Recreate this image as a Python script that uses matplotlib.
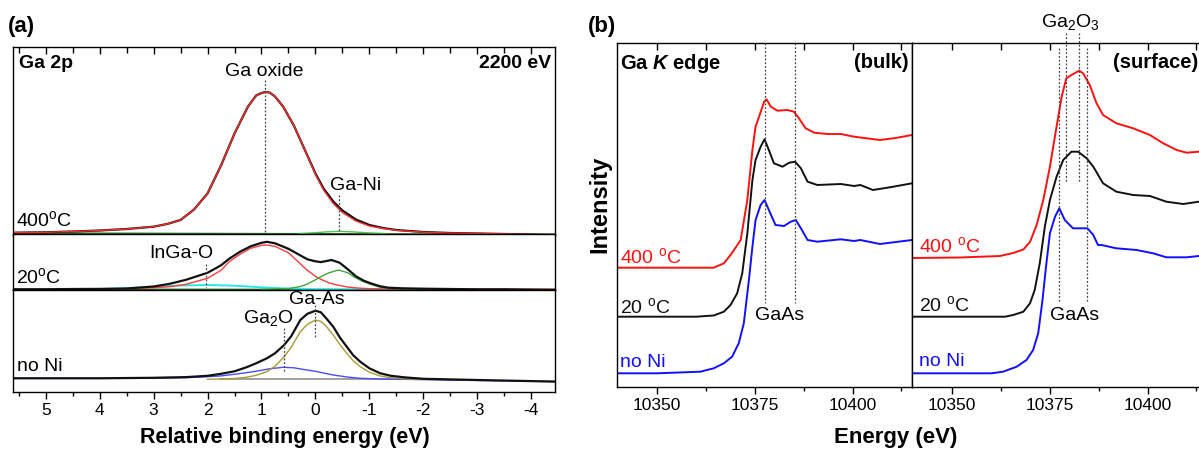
import matplotlib

matplotlib.use("Agg")
import matplotlib.pyplot as plt
from matplotlib.ticker import MultipleLocator

plt.rcParams["font.family"] = ["Liberation Sans", "DejaVu Sans"]
plt.rcParams["mathtext.fontset"] = "custom"
plt.rcParams["mathtext.rm"] = "Liberation Sans"
plt.rcParams["mathtext.it"] = "Liberation Sans:italic"
plt.rcParams["mathtext.bf"] = "Liberation Sans:bold"
plt.rcParams["mathtext.bfit"] = "Liberation Sans:italic:bold"
plt.rcParams["axes.linewidth"] = 1.0
plt.rcParams["axes.unicode_minus"] = False

# ---------------- (a) Ga 2p XPS, relative binding energy (eV) ----------------
# 400 C
e_400 = [5.6, 5.0, 4.5, 4.0, 3.5, 3.0, 2.75, 2.5, 2.25, 2.0, 1.75, 1.5, 1.25, 1.1, 1.0, 0.93,
         0.85, 0.75, 0.6, 0.4, 0.2, 0.0, -0.15, -0.33, -0.5, -0.75, -1.0, -1.25, -1.5, -2.0,
         -2.5, -3.0, -3.5, -4.0, -4.45]
data_400 = [0.8, 1.2, 2.0, 3.0, 4.5, 6.8, 9.5, 13.5, 24.0, 40.0, 68.0, 100.0, 127.0, 138.0,
            140.5, 141.5, 141.0, 137.0, 127.0, 108.0, 84.0, 60.0, 45.0, 32.0, 23.0, 14.0, 8.5,
            5.5, 3.5, 1.5, 0.5, 0.0, -0.5, -1.0, -1.5]
oxide_400 = [0.8, 1.2, 2.0, 3.0, 4.5, 6.8, 9.5, 13.5, 24.0, 40.0, 68.0, 100.0, 127.0, 138.0,
             140.5, 141.5, 141.0, 137.0, 127.0, 108.0, 84.0, 59.0, 43.5, 30.0, 21.0, 12.5, 7.5,
             5.0, 3.2, 1.3, 0.4, 0.0, -0.5, -1.0, -1.5]
e_gani_400 = [0.3, 0.0, -0.2, -0.43, -0.7, -1.0, -1.3]
gani_400 = [0.0, 0.8, 1.6, 2.2, 1.6, 0.6, 0.0]
e_bg = [5.6, -4.45]
bg_400 = [0.3, -1.0]

# 20 C
e_20 = [5.6, 5.0, 4.5, 4.0, 3.5, 3.3, 3.0, 2.7, 2.4, 2.0, 1.75, 1.6, 1.4, 1.2, 1.0, 0.9,
        0.75, 0.5, 0.35, 0.15, 0.0, -0.1, -0.3, -0.45, -0.6, -0.75, -0.9, -1.05, -1.2,
        -1.35, -1.6, -2.0, -2.5, -3.0, -3.5, -4.0, -4.45]
data_20 = [0.0, 0.0, 0.3, 0.4, 0.8, 1.6, 2.8, 5.5, 9.5, 16.5, 24.0, 30.5, 37.5, 43.0, 46.5,
           47.5, 46.0, 40.5, 36.0, 30.0, 28.0, 27.2, 29.3, 26.5, 20.0, 13.0, 8.5, 5.5, 3.0,
           1.6, 1.0, 0.6, 0.3, 0.0, 0.0, -0.3, -0.5]
e_ox_20 = [5.6, 4.0, 3.5, 3.0, 2.7, 2.4, 2.0, 1.75, 1.6, 1.4, 1.2, 1.0, 0.9, 0.75, 0.5, 0.35,
           0.15, 0.0, -0.1, -0.25, -0.4, -0.6, -0.8, -1.0, -1.5, -2.0, -4.45]
oxide_20 = [0.0, 0.2, 0.6, 1.6, 2.6, 5.0, 11.0, 19.0, 27.5, 35.0, 41.0, 44.0, 44.3, 43.0,
            36.5, 29.0, 19.0, 13.0, 10.0, 6.5, 4.3, 2.2, 1.2, 0.6, 0.1, 0.0, 0.0]
e_gani_20 = [1.0, 0.5, 0.3, 0.16, 0.0, -0.1, -0.25, -0.43, -0.6, -0.71, -0.85, -1.02, -1.2,
             -1.5, -2.0]
gani_20 = [0.0, 0.8, 2.5, 5.0, 9.5, 12.6, 16.5, 19.3, 16.5, 12.6, 8.5, 5.0, 2.0, 0.5, 0.0]
e_ingao_20 = [5.6, 4.0, 3.5, 3.0, 2.5, 2.0, 1.5, 1.0, 0.5, 0.0, -4.45]
ingao_20 = [0.0, 0.3, 1.0, 2.5, 3.8, 4.3, 3.6, 2.0, 0.7, 0.0, -1.0]
bg_20 = [0.0, -0.6]

# no Ni
e_noni = [5.6, 5.0, 4.0, 3.0, 2.39, 2.0, 1.77, 1.5, 1.28, 1.1, 0.9, 0.75, 0.58, 0.45, 0.28,
          0.15, 0.0, -0.1, -0.2, -0.33, -0.45, -0.58, -0.7, -0.83, -1.0, -1.2, -1.4, -1.64,
          -2.0, -3.0, -4.0, -4.45]
data_noni = [1.0, 1.0, 1.0, 1.5, 2.2, 3.5, 5.3, 8.0, 12.0, 16.0, 21.0, 26.0, 34.3, 43.0,
             59.3, 65.5, 68.6, 67.0, 61.0, 52.6, 42.0, 32.6, 24.0, 17.6, 11.0, 6.0, 3.5,
             2.0, 0.5, -0.7, -1.8, -2.3]
e_gaas = [2.0, 1.5, 1.28, 1.1, 0.9, 0.75, 0.58, 0.45, 0.28, 0.15, 0.0, -0.1, -0.2, -0.33,
          -0.45, -0.58, -0.7, -0.83, -1.0, -1.2, -1.4, -1.64, -2.0]
gaas_noni = [0.0, 0.8, 2.0, 4.0, 7.6, 13.0, 22.6, 32.0, 47.6, 55.0, 59.3, 58.0, 53.0, 44.3,
             35.0, 26.0, 18.5, 12.6, 7.0, 3.3, 1.5, 0.5, 0.0]
e_ga2o = [5.6, 4.0, 3.0, 2.39, 2.0, 1.77, 1.5, 1.15, 0.85, 0.6, 0.4, 0.16, 0.0, -0.33, -0.6,
          -0.83, -1.2, -1.64, -2.5, -3.5, -4.45]
ga2o_noni = [1.0, 1.0, 1.0, 1.6, 2.6, 3.3, 5.0, 7.6, 10.5, 12.0, 11.5, 9.3, 8.0, 4.3, 2.2,
             1.0, 0.3, 0.0, -0.8, -1.6, -2.3]
e_bg_noni = [1.77, -1.7]
bg_noni = [0.0, 0.0]

# peak markers (eV)
e_ga_oxide, e_ga_ni, e_ingao, e_ga_as, e_ga2o_line = 0.94, -0.43, 2.03, 0.0, 0.58

# ---------------- (b) Ga K edge XAS, energy (eV) ----------------
e_bulk_400 = [10339.7, 10350, 10360, 10364.5, 10367.1, 10368.8, 10369.7, 10371.4, 10373.1,
              10374.4, 10375.2, 10376.1, 10377.4, 10378.0, 10379.1, 10380.8, 10383.3, 10385.0,
              10386.3, 10388.0, 10390.2, 10393.6, 10397.0, 10400.4, 10404, 10407, 10411, 10415.2]
bulk_400 = [119.3, 119.3, 119.3, 119.3, 123.7, 132, 137, 147, 187, 237, 260.3, 270.3, 285.3,
            287.7, 280.3, 276.3, 277, 275.3, 268.7, 258.7, 254.3, 253, 253, 250.3, 248.5, 247,
            249, 252]
e_bulk_20 = [10339.7, 10350, 10360, 10364.5, 10367.1, 10368.8, 10370.5, 10371.8, 10373.1,
             10374.4, 10375.2, 10376.5, 10377.5, 10378.6, 10379.9, 10382.1, 10383.8, 10385.3,
             10386.8, 10388.5, 10391.0, 10397.0, 10400.4, 10402, 10405.2, 10410, 10415.2]
bulk_20 = [70.3, 70.3, 70.3, 71.5, 75.3, 82, 93.7, 113.7, 153.7, 207, 227, 240.3, 247.7, 237,
           223.7, 220.3, 224.3, 225.3, 218.7, 205.3, 202, 203, 201, 202, 197, 200, 203.7]
e_bulk_noni = [10339.7, 10350, 10361.1, 10364.5, 10367.1, 10369.2, 10370.9, 10372.2, 10373.5,
               10374.4, 10375.2, 10376.5, 10377.5, 10378.6, 10380.3, 10382.5, 10384.2, 10385.5,
               10386.8, 10388.5, 10391.0, 10397.0, 10400.4, 10402, 10407, 10415.2]
bulk_noni = [13.7, 13.7, 15.3, 18.7, 23.7, 30.3, 43.7, 63.7, 107, 140.3, 167, 182, 187, 177,
             162, 161, 165.3, 167, 158.7, 147, 145.3, 147.7, 146, 147, 143, 147]

e_surf_400 = [10339.7, 10352, 10362.2, 10365.6, 10368.2, 10369.9, 10371.6, 10373.3, 10375.0,
              10376.7, 10378.0, 10379.2, 10380.5, 10382.5, 10383.5, 10385.2, 10386.9, 10388.6,
              10392, 10396.3, 10400.6, 10404, 10407.4, 10410, 10413.1, 10415.2]
surf_400 = [129.0, 129.5, 131.0, 134.0, 137.5, 145.0, 162.0, 187, 220.3, 260.3, 290.3, 308.7,
            312, 316.3, 313.7, 302, 284, 272, 263.7, 258.7, 252, 243.7, 237, 234.3, 235.3, 236]
e_surf_20 = [10339.7, 10352, 10363.5, 10365.6, 10368.2, 10369.9, 10371.1, 10372.4, 10373.7,
             10375.0, 10376.7, 10378.4, 10380.5, 10382.2, 10384.4, 10386.1, 10388.6, 10392,
             10396.3, 10400.6, 10404.8, 10409.1, 10413.1, 10415.2]
surf_20 = [70.3, 70.3, 70.3, 72, 75.3, 83.7, 97, 123.7, 160.3, 187, 210.3, 227, 235.3, 235.3,
           228.7, 220.3, 203.7, 195.3, 192, 191, 185.3, 183, 185.3, 186]
e_surf_noni = [10339.7, 10360, 10363, 10366.5, 10369, 10370.7, 10372, 10373.1, 10374, 10375,
               10376.3, 10377.4, 10378.8, 10380.9, 10383.1, 10384.6, 10386.1, 10387.3, 10388.2,
               10392, 10397.2, 10401.4, 10404.8, 10410, 10413.1, 10415.2]
surf_noni = [13.7, 13.7, 15.3, 20.3, 27, 37, 53.7, 87, 120.3, 153.7, 170.3, 178.7, 167, 158.7,
             158.7, 158.7, 152, 142, 142, 138.7, 137, 133.7, 129.7, 129.7, 131, 131.5]

e_gaas_bulk = [10377.5, 10385.3]
e_gaas_surf = [10377.3, 10384.6]
e_ga2o3_surf = [10379.2, 10382.4]

W, H = 1199, 450
fig = plt.figure(figsize=(W / 100, H / 100), dpi=100)


def box(left, top, right, bottom):
    return [left / W, 1 - bottom / H, (right - left) / W, (bottom - top) / H]


ax_a1 = fig.add_axes(box(13.3, 46.7, 555, 234.5))
ax_a2 = fig.add_axes(box(13.3, 234.5, 555, 290))
ax_a3 = fig.add_axes(box(13.3, 290, 555, 391.7))
ax_b1 = fig.add_axes(box(616.7, 43, 912, 386.7))
ax_b2 = fig.add_axes(box(912, 43, 1207, 386.7))

for ax in (ax_a1, ax_a2, ax_a3):
    ax.set_xlim(5.6, -4.44)
    ax.set_yticks([])
    ax.xaxis.set_major_locator(MultipleLocator(1))
    ax.xaxis.set_minor_locator(MultipleLocator(0.5))
    ax.tick_params(axis="x", which="both", bottom=False, top=False, labelbottom=False)
ax_a1.set_ylim(-1, 186.8)
ax_a2.set_ylim(-0.7, 54.8)
ax_a3.set_ylim(-12.4, 89.3)
ax_a1.tick_params(axis="x", which="both", top=True, direction="in")
ax_a1.tick_params(axis="x", which="major", length=5, width=1)
ax_a1.tick_params(axis="x", which="minor", length=4, width=1)
ax_a3.tick_params(axis="x", which="both", bottom=True, labelbottom=True, direction="out",
                  labelsize=12.5, pad=3)
ax_a3.tick_params(axis="x", which="major", length=5, width=1)
ax_a3.tick_params(axis="x", which="minor", length=3, width=1)

# 400 C
ax_a1.plot(e_bg, bg_400, color="#1e6b1e", lw=1.3)
ax_a1.plot(e_gani_400, gani_400, color="#52c052", lw=1.0)
ax_a1.plot(e_400, data_400, color="#111111", lw=1.6)
ax_a1.plot(e_400, oxide_400, color="#ff2a2a", lw=1.0)
# 20 C
ax_a2.plot(e_bg, bg_20, color="#1e6b1e", lw=1.3)
ax_a2.plot(e_ingao_20, ingao_20, color="#2ee6ea", lw=1.4)
ax_a2.plot(e_ox_20, oxide_20, color="#ff3c3c", lw=1.0)
ax_a2.plot(e_gani_20, gani_20, color="#3cab3c", lw=1.0)
ax_a2.plot(e_20, data_20, color="#111111", lw=1.6)
# no Ni
ax_a3.plot(e_bg_noni, bg_noni, color="#999999", lw=1.3)
ax_a3.plot(e_ga2o, ga2o_noni, color="#4b4bff", lw=1.0)
ax_a3.plot(e_gaas, gaas_noni, color="#a99a35", lw=1.0)
ax_a3.plot(e_noni, data_noni, color="#111111", lw=1.6)

dot = dict(color="#444444", lw=0.9, ls=(0, (1.5, 1.5)), clip_on=False, zorder=5)
ax_a1.plot([e_ga_oxide, e_ga_oxide], [153.5, -36.5], **dot)
ax_a1.plot([e_ga_ni, e_ga_ni], [38.5, -44.5], **dot)
ax_a2.plot([e_ingao, e_ingao], [25.3, 2.6], **dot)
ax_a3.plot([e_ga_as, e_ga_as], [74.3, 42.6], **dot)
ax_a3.plot([e_ga2o_line, e_ga2o_line], [51.3, 6.3], **dot)

fs = 14
ax_a1.text(e_ga_oxide, 162.5, "Ga oxide", fontsize=fs, ha="center", va="center")
ax_a1.text(-0.74, 47.5, "Ga-Ni", fontsize=fs, ha="center", va="center")
ax_a2.text(2.48, 36, "InGa-O", fontsize=fs, ha="center", va="center")
ax_a3.text(-0.03, 79.3, "Ga-As", fontsize=fs, ha="center", va="center")
ax_a3.text(0.88, 61.3, "Ga$_2$O", fontsize=fs, ha="center", va="center")
ax_a1.text(5.55, 13.5, "400$^{\\rm o}$C", fontsize=fs, ha="left", va="center")
ax_a2.text(5.55, 12.6, "20$^{\\rm o}$C", fontsize=fs, ha="left", va="center")
ax_a3.text(5.53, 12.6, "no Ni", fontsize=fs, ha="left", va="center")
ax_a1.text(5.5, 170.2, "Ga 2p", fontsize=14, fontweight="bold", ha="left", va="center")
ax_a1.text(-4.37, 170.5, "2200 eV", fontsize=14, fontweight="bold", ha="right", va="center")

# (b)
for ax in (ax_b1, ax_b2):
    ax.set_xlim(10339.7, 10415.2)
    ax.set_ylim(0.3, 344)
    ax.set_yticks([])
    ax.xaxis.set_major_locator(MultipleLocator(25))
    ax.xaxis.set_minor_locator(MultipleLocator(12.5))
    ax.tick_params(axis="x", which="both", bottom=True, top=False, direction="out",
                   labelsize=12.5, pad=3)
    ax.tick_params(axis="x", which="major", length=5, width=1)
    ax.tick_params(axis="x", which="minor", length=3, width=1)
    sec = ax.secondary_xaxis("top")
    sec.xaxis.set_major_locator(MultipleLocator(12.5))
    sec.tick_params(axis="x", which="both", direction="in", labeltop=False, length=5, width=1)
    sec.spines["top"].set_visible(False)

ax_b1.plot(e_bulk_400, bulk_400, color="#ff1010", lw=1.4)
ax_b1.plot(e_bulk_20, bulk_20, color="#111111", lw=1.4)
ax_b1.plot(e_bulk_noni, bulk_noni, color="#1010ff", lw=1.4)
ax_b2.plot(e_surf_400, surf_400, color="#ff1010", lw=1.4)
ax_b2.plot(e_surf_20, surf_20, color="#111111", lw=1.4)
ax_b2.plot(e_surf_noni, surf_noni, color="#1010ff", lw=1.4)

for e in e_gaas_bulk:
    ax_b1.plot([e, e], [344, 83.7], **dot)
for e in e_gaas_surf:
    ax_b2.plot([e, e], [339, 85.3], **dot)
for e in e_ga2o3_surf:
    ax_b2.plot([e, e], [354, 205], **dot)

ax_b1.text(10340.6, 323.7, "Ga $\\mathbfit{K}$ edge", fontsize=14.5, fontweight="bold",
           ha="left", va="center")
ax_b1.text(10414.3, 324, "(bulk)", fontsize=14.5, fontweight="bold", ha="right", va="center")
ax_b2.text(10391.1, 324, "(surface)", fontsize=14.5, fontweight="bold", ha="left", va="center")
ax_b1.text(10381.3, 72, "GaAs", fontsize=fs, ha="center", va="center")
ax_b2.text(10381.4, 72, "GaAs", fontsize=fs, ha="center", va="center")
ax_b2.text(10380.1, 365.3, "Ga$_2$O$_3$", fontsize=fs, ha="center", va="center", clip_on=False)
for ax, e0, ys in ((ax_b1, 10340.5, (130.3, 80.3, 24.3)), (ax_b2, 10341.6, (141, 82, 25.3))):
    ax.text(e0, ys[0], "400 $^{\\rm o}$C", fontsize=fs, color="#ff1010", ha="left", va="center")
    ax.text(e0, ys[1], "20 $^{\\rm o}$C", fontsize=fs, color="#111111", ha="left", va="center")
    ax.text(e0, ys[2], "no Ni", fontsize=fs, color="#1010ff", ha="left", va="center")

fig.text(285 / W, 1 - 437 / H, "Relative binding energy (eV)", fontsize=15.5,
         fontweight="bold", ha="center", va="center")
fig.text(896 / W, 1 - 437 / H, "Energy (eV)", fontsize=16, fontweight="bold",
         ha="center", va="center")
fig.text(600 / W, 1 - 204 / H, "Intensity", fontsize=17, fontweight="bold", rotation=90,
         ha="center", va="center")
fig.text(8 / W, 1 - 26.7 / H, "(a)", fontsize=16, fontweight="bold", ha="left", va="center")
fig.text(588 / W, 1 - 26.7 / H, "(b)", fontsize=16, fontweight="bold", ha="left", va="center")

fig.savefig("out.png", dpi=100)
plt.close(fig)
